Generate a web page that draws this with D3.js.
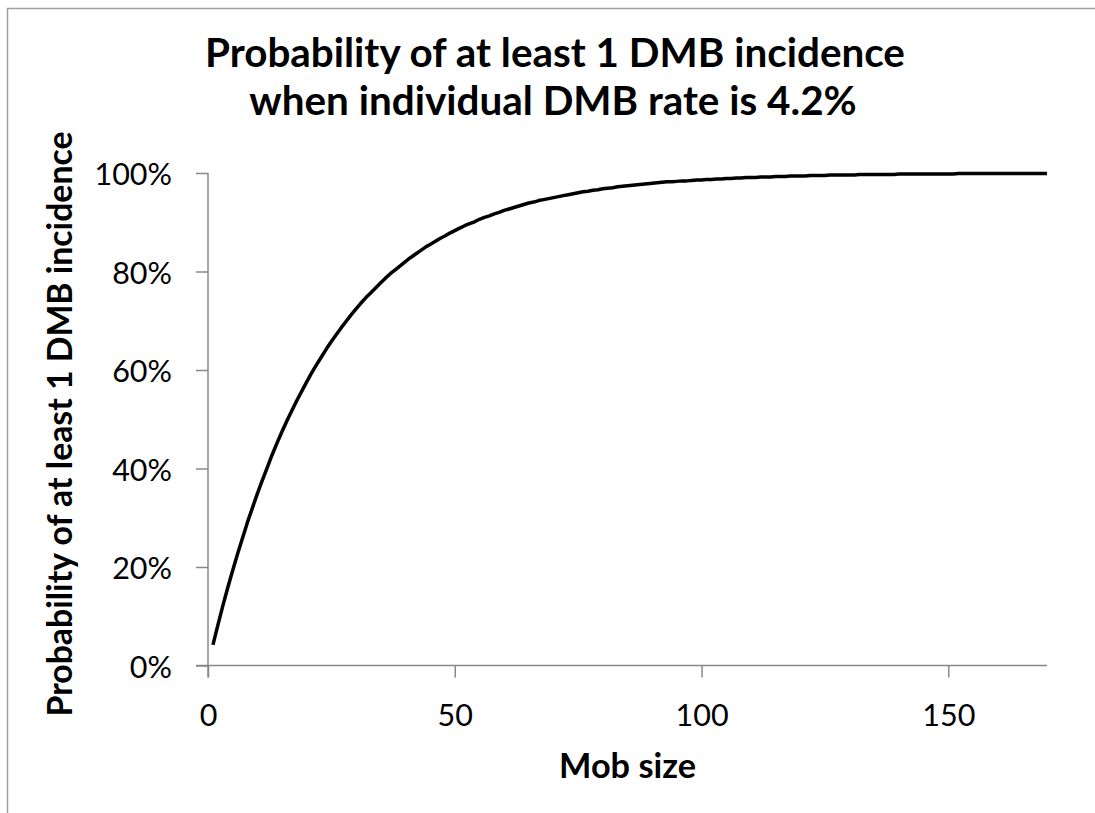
<!DOCTYPE html>
<html>
<head>
<meta charset="utf-8">
<script src="https://cdn.jsdelivr.net/npm/d3@7/dist/d3.min.js"></script>
<style>
  html, body { margin: 0; padding: 0; background: #fff; }
  svg { display: block; }
</style>
</head>
<body>
<svg id="chart" width="1095" height="813"></svg>
<script>
// Mob sizes (x) and probability of at least one DMB incidence (y)
const mobSizes = d3.range(1, 171);
const probability = [
  0.042, 0.082, 0.121, 0.158, 0.193, 0.227, 0.259, 0.291, 0.320, 0.349,
  0.376, 0.402, 0.428, 0.452, 0.475, 0.497, 0.518, 0.538, 0.557, 0.576,
  0.594, 0.611, 0.627, 0.643, 0.658, 0.672, 0.686, 0.699, 0.712, 0.724,
  0.736, 0.747, 0.757, 0.767, 0.777, 0.787, 0.796, 0.804, 0.812, 0.820,
  0.828, 0.835, 0.842, 0.849, 0.855, 0.861, 0.867, 0.872, 0.878, 0.883,
  0.888, 0.893, 0.897, 0.901, 0.906, 0.910, 0.913, 0.917, 0.920, 0.924,
  0.927, 0.930, 0.933, 0.936, 0.939, 0.941, 0.944, 0.946, 0.948, 0.950,
  0.952, 0.954, 0.956, 0.958, 0.960, 0.962, 0.963, 0.965, 0.966, 0.968,
  0.969, 0.970, 0.972, 0.973, 0.974, 0.975, 0.976, 0.977, 0.978, 0.979,
  0.980, 0.981, 0.982, 0.982, 0.983, 0.984, 0.984, 0.985, 0.986, 0.986,
  0.987, 0.987, 0.988, 0.988, 0.989, 0.989, 0.990, 0.990, 0.991, 0.991,
  0.991, 0.992, 0.992, 0.992, 0.993, 0.993, 0.993, 0.994, 0.994, 0.994,
  0.994, 0.995, 0.995, 0.995, 0.995, 0.996, 0.996, 0.996, 0.996, 0.996,
  0.996, 0.997, 0.997, 0.997, 0.997, 0.997, 0.997, 0.997, 0.997, 0.998,
  0.998, 0.998, 0.998, 0.998, 0.998, 0.998, 0.998, 0.998, 0.998, 0.998,
  0.998, 0.999, 0.999, 0.999, 0.999, 0.999, 0.999, 0.999, 0.999, 0.999,
  0.999, 0.999, 0.999, 0.999, 0.999, 0.999, 0.999, 0.999, 0.999, 0.999
];
const xTicks = [0, 50, 100, 150];
const yTicks = [0, 0.2, 0.4, 0.6, 0.8, 1.0];
const titleLines = ["Probability of at least 1 DMB incidence", "when individual DMB rate is 4.2%"];
const xTitle = "Mob size";
const yTitle = "Probability of at least 1 DMB incidence";

const data = mobSizes.map((m, i) => ({ x: m, y: probability[i] }));

const svg = d3.select("#chart");
const axisColor = "#898989";
const font = "Lato, 'Open Sans', sans-serif";

// chart frame
svg.append("rect")
  .attr("x", 7.5).attr("y", 8.5)
  .attr("width", 1200).attr("height", 900)
  .attr("fill", "none")
  .attr("stroke", "#a0a0a0")
  .attr("stroke-width", 1.5);

const plot = { left: 208, right: 1047, top: 173, bottom: 665.5 };

const x = d3.scaleLinear().domain([0, 170]).range([plot.left, plot.right]);
const y = d3.scaleLinear().domain([0, 1]).range([plot.bottom, plot.top]);

// x axis
const gx = svg.append("g")
  .attr("transform", `translate(0,${plot.bottom})`)
  .call(d3.axisBottom(x).tickValues(xTicks).tickSize(12).tickSizeOuter(0).tickFormat(d3.format("d")));
gx.select(".domain").attr("stroke", axisColor).attr("stroke-width", 1.5)
  .attr("d", `M${plot.left - 12},0H${plot.right}`);
gx.selectAll(".tick line").attr("stroke", axisColor).attr("stroke-width", 1.5);
gx.selectAll(".tick text")
  .attr("y", 60).attr("dy", 0)
  .attr("fill", "#000")
  .style("font-family", font).style("font-size", "30.5px");

// y axis
const gy = svg.append("g")
  .attr("transform", `translate(${plot.left},0)`)
  .call(d3.axisLeft(y).tickValues(yTicks).tickSize(12).tickSizeOuter(0).tickPadding(24).tickFormat(d3.format(".0%")));
gy.select(".domain").attr("stroke", axisColor).attr("stroke-width", 1.5)
  .attr("d", `M0,${plot.top}V${plot.bottom + 12}`);
gy.selectAll(".tick line").attr("stroke", axisColor).attr("stroke-width", 1.5);
gy.selectAll(".tick text")
  .attr("dy", 0).attr("y", 11.5)
  .attr("fill", "#000")
  .style("font-family", font).style("font-size", "30.5px");

// probability curve
const line = d3.line().x(d => x(d.x)).y(d => y(d.y));
svg.append("path")
  .datum(data)
  .attr("d", line)
  .attr("fill", "none")
  .attr("stroke", "#000")
  .attr("stroke-width", 3.5)
  .attr("stroke-linejoin", "round")
  .attr("stroke-linecap", "butt");

// size text so that it spans a given width
function fitWidth(sel, width) {
  const w = sel.node().getComputedTextLength();
  const fs = parseFloat(sel.style("font-size"));
  const nfs = fs * width / w;
  sel.style("font-size", nfs + "px");
  return nfs;
}

// title
const t1 = svg.append("text")
  .attr("x", 555).attr("y", 67)
  .attr("text-anchor", "middle")
  .style("font-family", font).style("font-weight", "bold").style("font-size", "34px")
  .text(titleLines[0]);
const titleSize = fitWidth(t1, 700);
svg.append("text")
  .attr("x", 553).attr("y", 115)
  .attr("text-anchor", "middle")
  .style("font-family", font).style("font-weight", "bold").style("font-size", titleSize + "px")
  .text(titleLines[1]);

// axis titles
const xt = svg.append("text")
  .attr("x", (plot.left + plot.right) / 2).attr("y", 778)
  .attr("text-anchor", "middle")
  .style("font-family", font).style("font-weight", "bold").style("font-size", "28px")
  .text(xTitle);
fitWidth(xt, 137);

const yt = svg.append("text")
  .attr("transform", "translate(72,424) rotate(-90)")
  .attr("text-anchor", "middle")
  .style("font-family", font).style("font-weight", "bold").style("font-size", "28px")
  .text(yTitle);
fitWidth(yt, 585);
</script>
</body>
</html>
